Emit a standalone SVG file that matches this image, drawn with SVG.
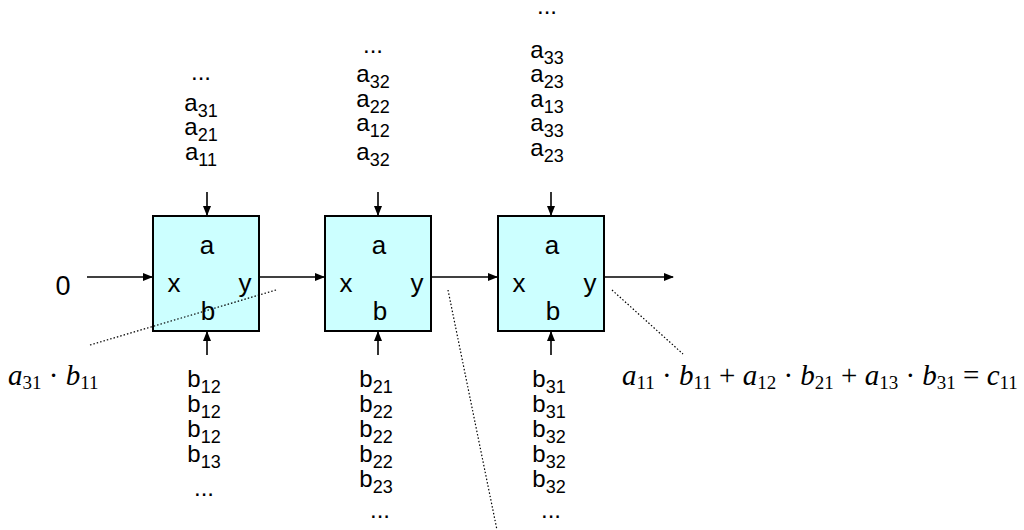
<svg xmlns="http://www.w3.org/2000/svg" width="1024" height="530" viewBox="0 0 1024 530">
<style>
.t{font-family:"Liberation Sans",Arial,sans-serif;font-size:24px;fill:#000;text-anchor:middle}
.s{font-size:18px}
.k{font-size:26px}
.m{font-family:"Liberation Serif","Times New Roman",serif;font-size:29px;font-style:italic}
.ms{font-size:19px;font-style:normal}
.n{font-style:normal}
.box{fill:#ccffff;stroke:#000;stroke-width:2}
.ln{stroke:#000;stroke-width:1.6;fill:none}
.dot{stroke:#000;stroke-width:1.2;stroke-dasharray:1.5 2;fill:none}
</style>
<defs><marker id="ar" markerWidth="10" markerHeight="8" refX="9" refY="4" orient="auto" markerUnits="userSpaceOnUse"><path d="M0,0 L10,4 L0,8 Z"/></marker></defs>
<rect width="1024" height="530" fill="#fff"/>
<g id="pe1" class="t k"><rect class="box" x="153" y="216" width="106" height="115"/>
<text x="207" y="254">a</text><text x="174" y="292">x</text><text x="245" y="292">y</text><text x="208" y="320">b</text></g>
<g id="pe2" class="t k"><rect class="box" x="325" y="216" width="106" height="115"/>
<text x="379" y="254">a</text><text x="346" y="292">x</text><text x="417" y="292">y</text><text x="380" y="320">b</text></g>
<g id="pe3" class="t k"><rect class="box" x="498" y="216" width="106" height="115"/>
<text x="552" y="254">a</text><text x="519" y="292">x</text><text x="590" y="292">y</text><text x="553" y="320">b</text></g>
<g id="input0"><text class="t" x="63" y="295" style="font-size:27px">0</text></g>
<g id="acol1" class="t">
<text x="201" y="80">...</text>
<text x="201" y="111">a<tspan class="s" dy="6">31</tspan></text>
<text x="201" y="135">a<tspan class="s" dy="6">21</tspan></text>
<text x="201" y="160">a<tspan class="s" dy="6">11</tspan></text>
</g>
<g id="acol2" class="t">
<text x="373" y="53">...</text>
<text x="373" y="82">a<tspan class="s" dy="6">32</tspan></text>
<text x="373" y="107">a<tspan class="s" dy="6">22</tspan></text>
<text x="373" y="131">a<tspan class="s" dy="6">12</tspan></text>
<text x="373" y="160">a<tspan class="s" dy="6">32</tspan></text>
</g>
<g id="acol3" class="t">
<text x="547" y="14">...</text>
<text x="547" y="58">a<tspan class="s" dy="6">33</tspan></text>
<text x="547" y="82">a<tspan class="s" dy="6">23</tspan></text>
<text x="547" y="107">a<tspan class="s" dy="6">13</tspan></text>
<text x="547" y="131">a<tspan class="s" dy="6">33</tspan></text>
<text x="547" y="156">a<tspan class="s" dy="6">23</tspan></text>
</g>
<g id="bcol1" class="t">
<text x="204" y="387">b<tspan class="s" dy="6">12</tspan></text>
<text x="204" y="412">b<tspan class="s" dy="6">12</tspan></text>
<text x="204" y="437">b<tspan class="s" dy="6">12</tspan></text>
<text x="204" y="462">b<tspan class="s" dy="6">13</tspan></text>
<text x="204" y="496">...</text>
</g>
<g id="bcol2" class="t">
<text x="376" y="387">b<tspan class="s" dy="6">21</tspan></text>
<text x="376" y="412">b<tspan class="s" dy="6">22</tspan></text>
<text x="376" y="437">b<tspan class="s" dy="6">22</tspan></text>
<text x="376" y="462">b<tspan class="s" dy="6">22</tspan></text>
<text x="376" y="487">b<tspan class="s" dy="6">23</tspan></text>
<text x="380" y="518">...</text>
</g>
<g id="bcol3" class="t">
<text x="549" y="387">b<tspan class="s" dy="6">31</tspan></text>
<text x="549" y="412">b<tspan class="s" dy="6">31</tspan></text>
<text x="549" y="437">b<tspan class="s" dy="6">32</tspan></text>
<text x="549" y="462">b<tspan class="s" dy="6">32</tspan></text>
<text x="549" y="487">b<tspan class="s" dy="6">32</tspan></text>
<text x="551" y="518">...</text>
</g>
<g id="label-left"><text class="m" x="8" y="385">a<tspan class="ms" dy="4">31</tspan><tspan class="n" dy="-4"> · </tspan>b<tspan class="ms" dy="4">11</tspan></text></g>
<g id="label-right"><text class="m" x="622" y="385">a<tspan class="ms" dy="4">11</tspan><tspan class="n" dy="-4"> · </tspan>b<tspan class="ms" dy="4">11</tspan><tspan class="n" dy="-4"> + </tspan>a<tspan class="ms" dy="4">12</tspan><tspan class="n" dy="-4"> · </tspan>b<tspan class="ms" dy="4">21</tspan><tspan class="n" dy="-4"> + </tspan>a<tspan class="ms" dy="4">13</tspan><tspan class="n" dy="-4"> · </tspan>b<tspan class="ms" dy="4">31</tspan><tspan class="n" dy="-4"> = </tspan>c<tspan class="ms" dy="4">11</tspan></text></g>
<g id="connectors">
<line class="ln" x1="87" y1="277" x2="152" y2="277" marker-end="url(#ar)"/>
<line class="ln" x1="260" y1="277" x2="324" y2="277" marker-end="url(#ar)"/>
<line class="ln" x1="432" y1="277" x2="497" y2="277" marker-end="url(#ar)"/>
<line class="ln" x1="605" y1="277" x2="673" y2="277" marker-end="url(#ar)"/>
<line class="ln" x1="207" y1="192" x2="207" y2="215" marker-end="url(#ar)"/>
<line class="ln" x1="378" y1="192" x2="378" y2="215" marker-end="url(#ar)"/>
<line class="ln" x1="551" y1="192" x2="551" y2="215" marker-end="url(#ar)"/>
<line class="ln" x1="207" y1="355" x2="207" y2="332" marker-end="url(#ar)"/>
<line class="ln" x1="378" y1="355" x2="378" y2="332" marker-end="url(#ar)"/>
<line class="ln" x1="551" y1="355" x2="551" y2="332" marker-end="url(#ar)"/>
<line class="dot" x1="90" y1="345" x2="276" y2="290"/>
<line class="dot" x1="448" y1="290" x2="497" y2="530"/>
<line class="dot" x1="612" y1="290" x2="683" y2="354"/>
</g>
</svg>
